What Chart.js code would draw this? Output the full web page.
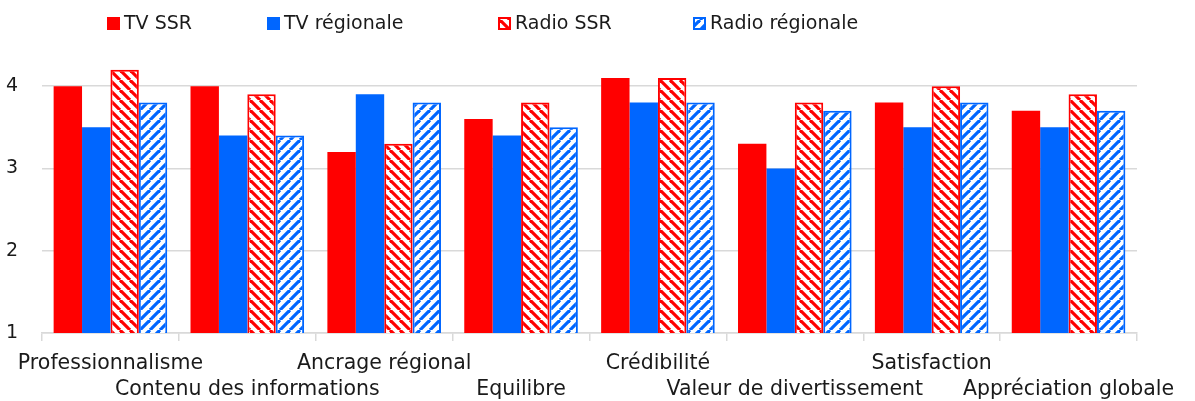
<!DOCTYPE html>
<html>
<head>
<meta charset="utf-8">
<script src="https://cdn.jsdelivr.net/npm/chart.js@4/dist/chart.umd.min.js"></script>
<style>
  html, body { margin: 0; padding: 0; background: #fff; }
  #wrap { width: 1195px; height: 401px; }
</style>
</head>
<body>
<div id="wrap"><canvas id="chart" width="1195" height="401"></canvas></div>
<script>
// --- DATA ---
const categories = [
  "Professionnalisme", "Contenu des informations", "Ancrage régional", "Equilibre",
  "Crédibilité", "Valeur de divertissement", "Satisfaction", "Appréciation globale"
];
const seriesNames = ["TV SSR", "TV régionale", "Radio SSR", "Radio régionale"];
const tvSSR       = [4.0, 4.0, 3.2, 3.6, 4.1, 3.3, 3.8, 3.7];
const tvRegionale = [3.5, 3.4, 3.9, 3.4, 3.8, 3.0, 3.5, 3.5];
const radioSSR    = [4.2, 3.9, 3.3, 3.8, 4.1, 3.8, 4.0, 3.9];
const radioReg    = [3.8, 3.4, 3.8, 3.5, 3.8, 3.7, 3.8, 3.7];
const yTicks = [1, 2, 3, 4];

const RED = '#ff0000';
const BLUE = '#0066ff';
const GRID = '#d9d9d9';
const TEXT = '#1a1a1a';
const FONT = "'DejaVu Sans', sans-serif";

const canvas = document.getElementById('chart');
const ctx = canvas.getContext('2d');

// hachures diagonales (\ ou /)
function stripes(color, down) {
  const n = 10;
  const t = document.createElement('canvas');
  t.width = t.height = n;
  const g = t.getContext('2d');
  g.fillStyle = '#fff';
  g.fillRect(0, 0, n, n);
  g.strokeStyle = color;
  g.lineWidth = 3.2;
  [-n, 0, n].forEach(k => {
    g.beginPath();
    if (down) { g.moveTo(k, 0); g.lineTo(k + n, n); }
    else { g.moveTo(k + n, 0); g.lineTo(k, n); }
    g.stroke();
  });
  return ctx.createPattern(t, 'repeat');
}

// labels en quinconce sur deux lignes
const xLabels = categories.map((c, i) => i % 2 === 0 ? [c, ''] : ['', c]);

// --- LEGENDE ---
const legendPlugin = {
  id: 'customLegend',
  afterDraw(chart) {
    const c = chart.ctx;
    const boxX = [107, 267, 498, 693];
    c.save();
    c.font = `19px ${FONT}`;
    c.textBaseline = 'middle';
    chart.data.datasets.forEach((ds, i) => {
      const x = boxX[i], y = 17;
      c.fillStyle = ds.backgroundColor;
      c.fillRect(x, y, 13, 13);
      if (ds.borderWidth) {
        c.strokeStyle = ds.borderColor;
        c.lineWidth = 2;
        c.strokeRect(x + 1, y + 1, 11, 11);
      }
      c.fillStyle = TEXT;
      c.fillText(ds.label, x + 17, y + 7);
    });
    c.restore();
  }
};

new Chart(ctx, {
  type: 'bar',
  data: {
    labels: xLabels,
    datasets: [
      { label: seriesNames[0], data: tvSSR, backgroundColor: RED, borderWidth: 0 },
      { label: seriesNames[1], data: tvRegionale, backgroundColor: BLUE, borderWidth: 0 },
      { label: seriesNames[2], data: radioSSR, backgroundColor: stripes(RED, true),
        borderColor: RED, borderWidth: 2, borderSkipped: false },
      { label: seriesNames[3], data: radioReg, backgroundColor: stripes(BLUE, false),
        borderColor: BLUE, borderWidth: 2, borderSkipped: false }
    ]
  },
  options: {
    responsive: false,
    animation: false,
    datasets: { bar: { categoryPercentage: 0.83, barPercentage: 1.0 } },
    layout: { padding: { top: 45, right: 58, left: 0, bottom: 0 } },
    scales: {
      x: {
        grid: { drawOnChartArea: false, color: GRID, lineWidth: 1.5, tickLength: 8 },
        border: { color: GRID, width: 1.5 },
        ticks: {
          autoSkip: false, maxRotation: 0, minRotation: 0, padding: 10,
          color: TEXT, font: { family: FONT, size: 20.5, lineHeight: '26px' }
        },
        afterFit: s => { s.height = 68; }
      },
      y: {
        min: 1, max: 4.5,
        grid: { color: GRID, lineWidth: 1.5, drawTicks: false },
        border: { display: false },
        ticks: {
          stepSize: 1, includeBounds: false, padding: 24,
          color: TEXT, font: { family: FONT, size: 19 },
          callback: v => yTicks.includes(v) ? v : ''
        },
        afterFit: s => { s.width = 42; }
      }
    },
    plugins: {
      legend: { display: false },
      tooltip: { enabled: false }
    }
  },
  plugins: [legendPlugin]
});
</script>
</body>
</html>
